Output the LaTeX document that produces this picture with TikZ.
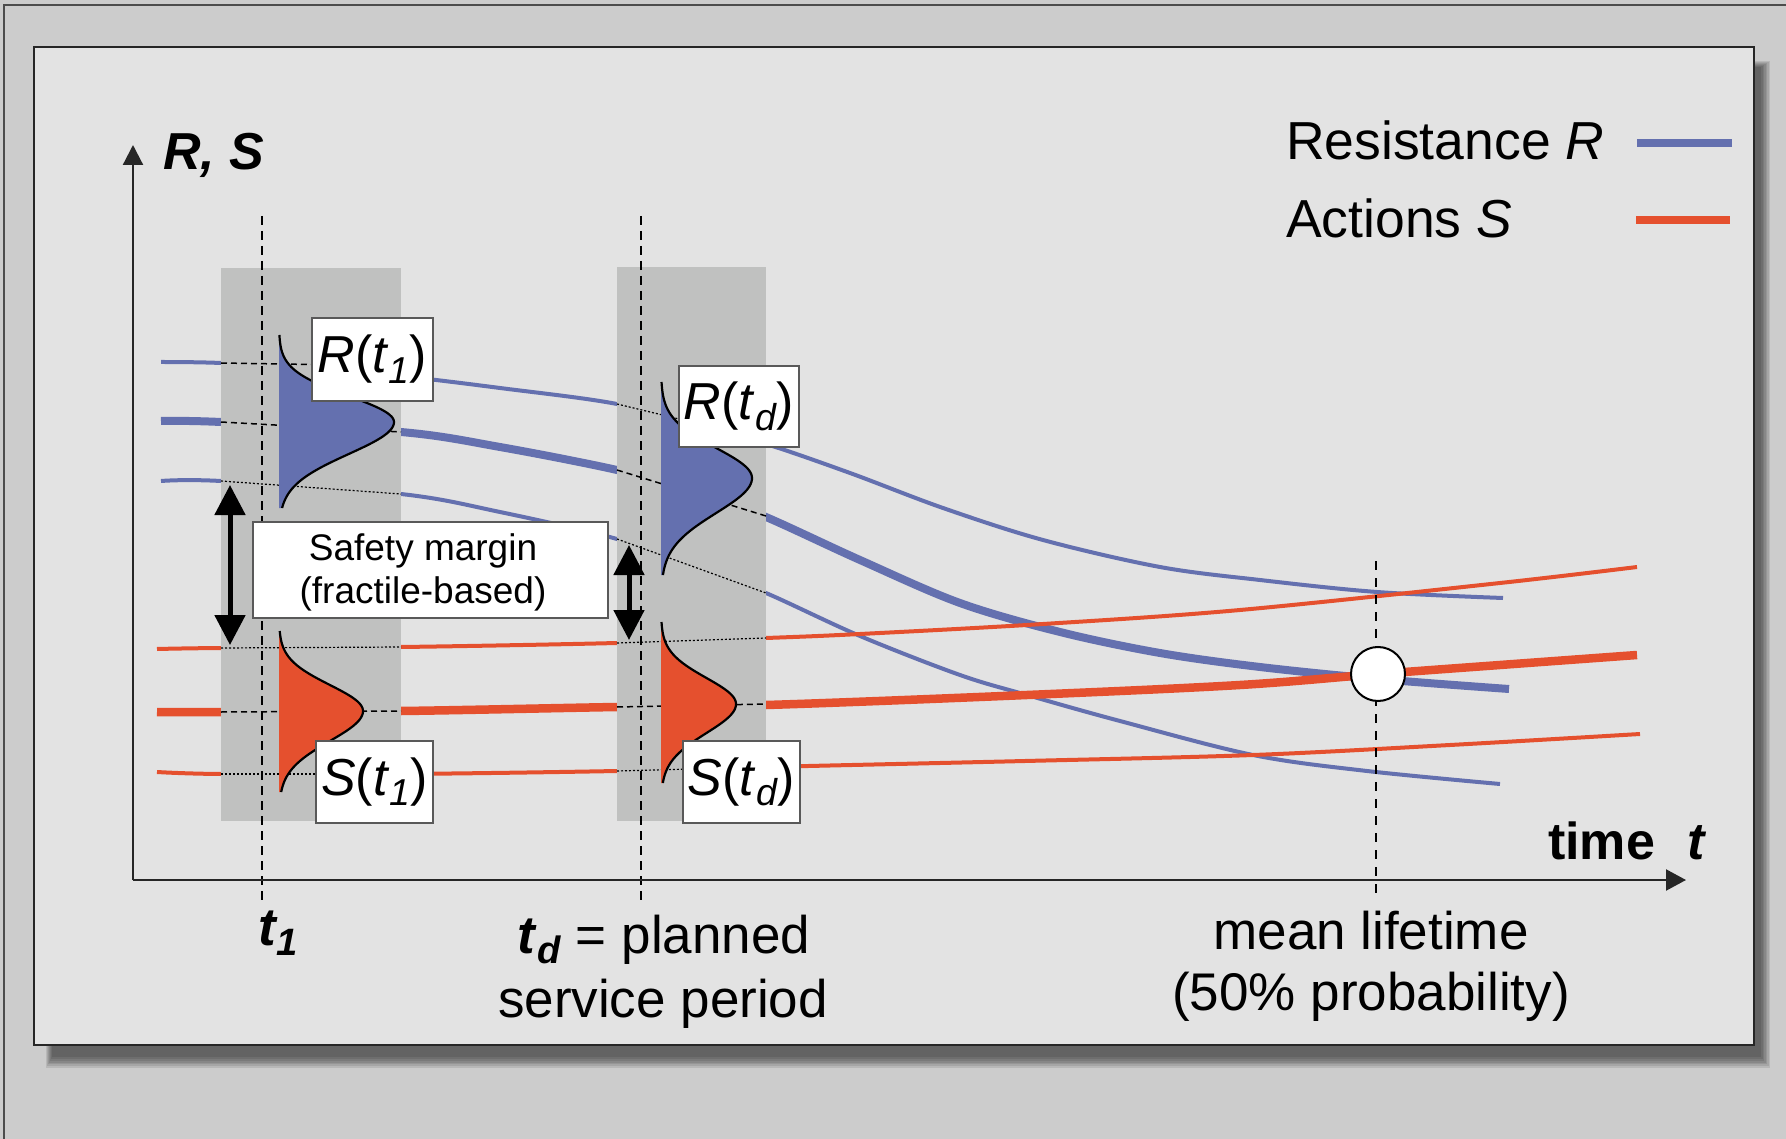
\documentclass[tikz,border=0pt]{standalone}
\usepackage{fontspec}
\setmainfont{Liberation Sans}
\usetikzlibrary{arrows.meta}
\definecolor{rblue}{HTML}{6470AF}
\definecolor{sred}{HTML}{E5502E}
\definecolor{boxgray}{HTML}{C0C1C0}
\definecolor{panelgray}{HTML}{E3E3E3}
\definecolor{outergray}{HTML}{CCCCCC}
\newcommand\lowsub[1]{\raisebox{-0.2em}{\scalebox{0.72}{#1}}}
\newcommand\drawbell[8]{%
  \fill[#1] (#2,#3-#5) -- plot[domain=-#5:0,samples=50,variable=\t] ({#2+#4*exp(-0.5*(\t/#6)*(\t/#6))},{#3+\t})
     -- plot[domain=0:#7,samples=50,variable=\t] ({#2+#4*exp(-0.5*(\t/#8)*(\t/#8))},{#3+\t}) -- (#2,#3+#7) -- cycle;
  \draw[line width=2.2pt,line join=round] plot[domain=-#5:0,samples=50,variable=\t] ({#2+#4*exp(-0.5*(\t/#6)*(\t/#6))},{#3+\t})
     -- plot[domain=0:#7,samples=50,variable=\t] ({#2+#4*exp(-0.5*(\t/#8)*(\t/#8))},{#3+\t});
}
\begin{document}
\begin{tikzpicture}[x=1pt,y=-1pt,
  thinR/.style={rblue,line width=4pt},
  thickR/.style={rblue,line width=8pt},
  thinS/.style={sred,line width=4pt},
  thickS/.style={sred,line width=8.5pt},
  band/.style={fill=boxgray,draw=none},
  fractile/.style={black,line width=1.2pt,dash pattern=on 2pt off 2pt},
  meanline/.style={black,line width=1.5pt,dash pattern=on 6pt off 4pt},
  timeline/.style={black,line width=2.4pt,dash pattern=on 9pt off 6pt},
  distlabel/.style={draw=black!65,line width=1.5pt,fill=white,inner sep=0pt,font=\fontsize{52}{60}\selectfont},
  txt/.style={inner sep=0pt,font=\fontsize{53}{60}\selectfont},
  axisline/.style={black!85,line width=2.2pt},
  dblarrow/.style={black,line width=5pt,{Triangle[length=30pt,width=30pt]}-{Triangle[length=30pt,width=30pt]}}
]
\useasboundingbox (0,0) rectangle (1786,1139);
% background
\fill[outergray] (0,0) rectangle (1786,1139);
\draw[black!70,line width=1.5pt] (4,1139) -- (4,5) -- (1786,5);
% shadow
\foreach \k in {0,...,6}{
  \fill[black,opacity=0.095] (46+\k,61+\k) rectangle (1770-1.5*\k,1068-1.8*\k);
}
% panel
\draw[line width=1.5pt,black!85,fill=panelgray] (34,47) rectangle (1754,1045);

% curves: resistance
\draw[thinR] plot[smooth,tension=0.55] coordinates {(161,362) (221,363) (320,369) (401,376) (500,388) (617,404) (700,427) (766,444) (850,473) (943,508) (1043,540) (1160,567) (1260,580) (1377,592) (1503,598)};
\draw[thickR] plot[smooth,tension=0.55] coordinates {(161,421) (221,422) (401,432) (500,447) (617,470) (700,492) (766,517) (860,560) (960,603) (1060,632) (1160,653) (1260,667) (1378,679) (1509,689)};
\draw[thinR] plot[smooth,tension=0.55] coordinates {(161,481) (221,481) (401,494) (500,512) (617,539) (700,568) (766,593) (860,636) (960,675) (1027,695) (1120,721) (1253,755) (1367,771) (1500,784)};
% curves: actions
\draw[thinS] plot[smooth,tension=0.55] coordinates {(157,649) (221,648) (401,647) (617,643) (766,638) (860,634) (1043,624) (1240,610) (1500,583) (1637,567)};
\draw[thickS] plot[smooth,tension=0.55] coordinates {(157,712) (221,712) (401,711) (617,707) (766,705) (1027,695) (1240,685) (1378,674) (1500,665) (1637,655)};
\draw[thinS] plot[smooth,tension=0.55] coordinates {(157,772) (221,774) (401,774) (617,771) (766,767) (1025,761) (1253,755) (1450,745) (1640,734)};

% gray bands
\fill[band] (221,268) rectangle (401,821);
\fill[band] (617,267) rectangle (766,821);

% fractile and mean lines, band 1
\draw[meanline] (221,363) -- (401,366);
\draw[meanline] (221,422) -- (401,432);
\draw[fractile] (221,481) -- (401,494);
\draw[fractile] (221,648) -- (401,647);
\draw[meanline] (221,712) -- (401,711);
\draw[fractile] (221,774) -- (401,774);
% band 2
\draw[fractile] (617,404) -- (766,440);
\draw[meanline] (617,470) -- (766,516);
\draw[fractile] (617,539) -- (766,593);
\draw[fractile] (617,643) -- (766,638);
\draw[meanline] (617,707) -- (766,704);
\draw[fractile] (617,771) -- (766,767);

% distributions
\drawbell{rblue}{279}{422}{115}{87}{26}{86}{32}
\drawbell{sred}{279}{711}{84}{80}{26}{81}{30}
\drawbell{rblue}{661}{478}{91}{96}{30}{97}{35}
\drawbell{sred}{661}{704}{75}{82}{26}{79}{29}

% time lines
\coordinate (t1top) at (262,216);
\coordinate (t1bot) at (262,905);
\coordinate (tdtop) at (641,216);
\coordinate (tdbot) at (641,905);
\coordinate (mltop) at (1376,561);
\coordinate (mlbot) at (1376,900);
\draw[timeline] (t1top) -- (t1bot);
\draw[timeline] (tdtop) -- (tdbot);
\draw[timeline,dash pattern=on 9pt off 8pt] (mltop) -- (mlbot);

% axes
\coordinate (O) at (133,880);
\coordinate (ytop) at (133,145);
\coordinate (xend) at (1686,880);
\draw[axisline,-{Triangle[length=20pt,width=20pt]}] (O) -- (ytop);
\draw[axisline,-{Triangle[length=20pt,width=21pt]}] (O) -- (xend);

% mean lifetime point
\node[circle,draw=black,fill=white,line width=2pt,minimum size=54pt,inner sep=0pt] (life) at (1378,674) {};

% distribution labels
\node[distlabel,minimum width=121pt,minimum height=83pt] (Rt1) at (372.5,359.5) {\textit{R}(\textit{t}\lowsub{\textit{1}})};
\node[distlabel,minimum width=117pt,minimum height=82pt] (St1) at (374.5,782) {\textit{S}(\textit{t}\lowsub{\textit{1}})};
\node[distlabel,minimum width=120pt,minimum height=81pt] (Rtd) at (739,406.5) {\textit{R}(\textit{t}\lowsub{\textit{d}})};
\node[distlabel,minimum width=117pt,minimum height=82pt] (Std) at (741.5,782) {\textit{S}(\textit{t}\lowsub{\textit{d}})};

% safety margin
\node[draw=black!65,line width=1.5pt,fill=white,minimum width=355pt,minimum height=96pt,inner sep=0pt] (sm) at (430.5,570) {};
\node[inner sep=0pt,align=center,font=\fontsize{37}{43}\selectfont] (smtext) at (423,572) {Safety margin\\(fractile-based)};
\coordinate (a1t) at (230,485);
\coordinate (a1b) at (230,645);
\coordinate (a2t) at (629,545);
\coordinate (a2b) at (629,640);
\draw[dblarrow] (a1t) -- (a1b);
\draw[dblarrow] (a2t) -- (a2b);

% axis labels
\node[anchor=base west,inner sep=0pt,font=\fontsize{52}{60}\selectfont\bfseries\itshape] (RS) at (163,170) {R, S};
\node[anchor=base west,inner sep=0pt,font=\fontsize{52}{60}\selectfont\bfseries] (timelab) at (1548,859) {time\hspace{0.62em}\textit{t}};

% legend
\node[anchor=base west,inner sep=0pt,font=\fontsize{53.5}{60}\selectfont] (legR) at (1286,160) {Resistance \textit{R}};
\node[anchor=base west,inner sep=0pt,font=\fontsize{53.5}{60}\selectfont] (legS) at (1286,238) {Actions \textit{S}};
\coordinate (lRa) at (1637,143);
\coordinate (lRb) at (1732,143);
\coordinate (lSa) at (1636,220);
\coordinate (lSb) at (1730,220);
\draw[thickR] (lRa) -- (lRb);
\draw[thickS,line width=8pt] (lSa) -- (lSb);

% bottom labels
\node[txt,anchor=base,font=\fontsize{53}{60}\selectfont\bfseries\itshape] (t1lab) at (278,945) {t\lowsub{1}};
\node[txt,anchor=base] (tdlab) at (664,953) {\textbf{\textit{t}\lowsub{\textit{d}}} = planned};
\node[txt,anchor=base] (splab) at (663,1017) {service period};
\node[txt,anchor=base] (mllab) at (1371,949) {mean lifetime};
\node[txt,anchor=base] (prlab) at (1371,1010) {(50\% probability)};
\end{tikzpicture}
\end{document}
